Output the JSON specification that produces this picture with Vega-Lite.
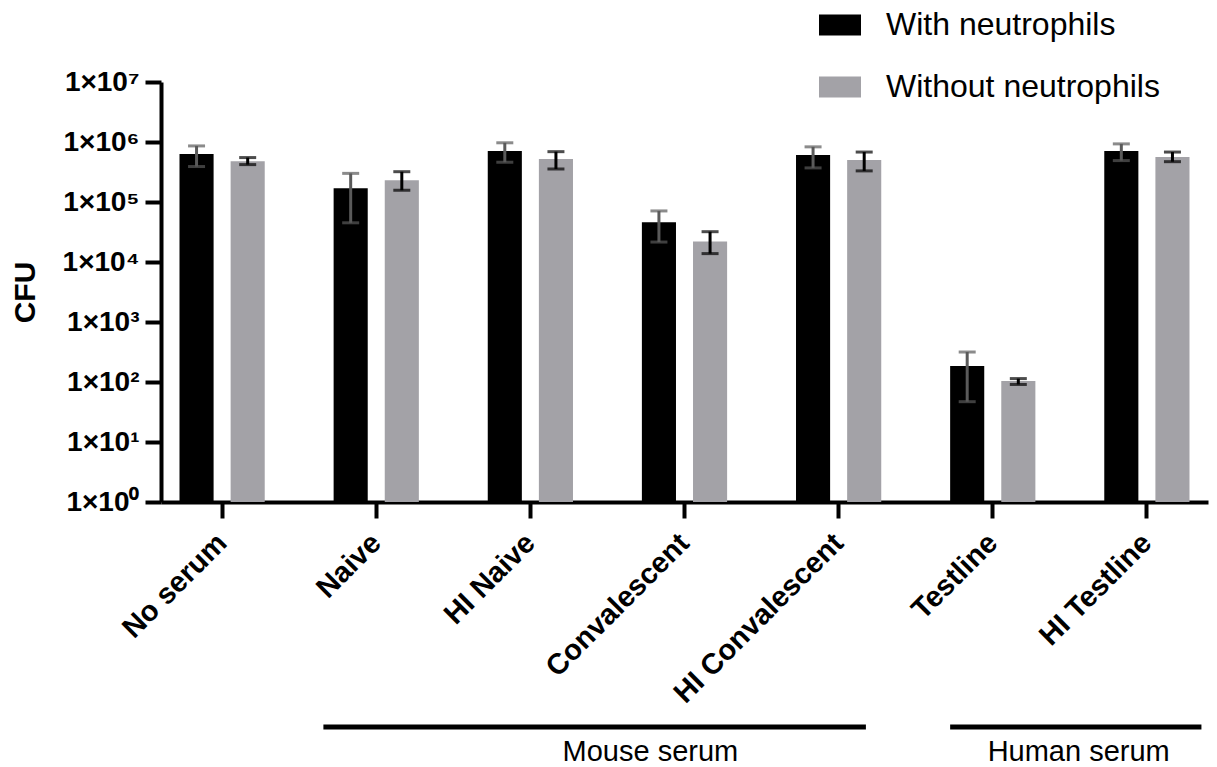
{
  "$schema": "https://vega.github.io/schema/vega-lite/v6.json",
  "padding": {"left": 10, "top": 4, "right": 5, "bottom": 0},
  "config": {"view": {"stroke": null}, "font": "Liberation Sans"},
  "datasets": {
    "bars": [
      {"category": "No serum", "series": "With neutrophils", "value": 630000, "lo": 390000, "hi": 860000},
      {"category": "No serum", "series": "Without neutrophils", "value": 480000, "lo": 420000, "hi": 550000},
      {"category": "Naive", "series": "With neutrophils", "value": 170000, "lo": 45000, "hi": 300000},
      {"category": "Naive", "series": "Without neutrophils", "value": 230000, "lo": 157000, "hi": 320000},
      {"category": "HI Naive", "series": "With neutrophils", "value": 710000, "lo": 460000, "hi": 970000},
      {"category": "HI Naive", "series": "Without neutrophils", "value": 520000, "lo": 355000, "hi": 690000},
      {"category": "Convalescent", "series": "With neutrophils", "value": 46000, "lo": 21500, "hi": 71000},
      {"category": "Convalescent", "series": "Without neutrophils", "value": 22000, "lo": 13800, "hi": 32000},
      {"category": "HI Convalescent", "series": "With neutrophils", "value": 610000, "lo": 370000, "hi": 830000},
      {"category": "HI Convalescent", "series": "Without neutrophils", "value": 500000, "lo": 330000, "hi": 680000},
      {"category": "Testline", "series": "With neutrophils", "value": 185, "lo": 47, "hi": 316},
      {"category": "Testline", "series": "Without neutrophils", "value": 104, "lo": 91, "hi": 114},
      {"category": "HI Testline", "series": "With neutrophils", "value": 710000, "lo": 490000, "hi": 930000},
      {"category": "HI Testline", "series": "Without neutrophils", "value": 560000, "lo": 470000, "hi": 680000}
    ],
    "groups": [
      {"group": "Mouse serum", "start": "Naive", "end": "HI Convalescent"},
      {"group": "Human serum", "start": "Testline", "end": "HI Testline"}
    ]
  },
  "resolve": {"scale": {"x": "shared"}},
  "spacing": 0,
  "vconcat": [
    {
      "width": 1047,
      "height": 420,
      "data": {"name": "bars"},
      "encoding": {
        "x": {
          "field": "category", "type": "nominal",
          "sort": ["No serum", "Naive", "HI Naive", "Convalescent", "HI Convalescent", "Testline", "HI Testline"],
          "scale": {"domain": ["No serum", "Naive", "HI Naive", "Convalescent", "HI Convalescent", "Testline", "HI Testline"], "paddingInner": 0.447, "paddingOuter": 0.12},
          "axis": {
            "title": null, "labelAngle": -45, "labelFontSize": 29, "labelFontWeight": "bold", "labelLimit": 0,
            "labelAlign": "right", "labelBaseline": "middle",
            "labelColor": "black", "labelPadding": 20, "domainWidth": 4, "domainColor": "black",
            "tickWidth": 4, "tickSize": 16, "tickColor": "black"
          }
        },
        "xOffset": {
          "field": "series", "type": "nominal",
          "sort": ["With neutrophils", "Without neutrophils"],
          "scale": {"paddingInner": 0.333, "paddingOuter": 0}
        },
        "y": {
          "field": "value", "type": "quantitative",
          "scale": {"type": "log", "domain": [1, 10000000], "nice": false},
          "axis": {
            "title": "CFU", "titleFontSize": 30, "titleFontWeight": "bold", "titleColor": "black", "titlePadding": 22,
            "values": [1, 10, 100, 1000, 10000, 100000, 1000000, 10000000],
            "labelExpr": "'1×10' + ['⁰','¹','²','³','⁴','⁵','⁶','⁷'][round(log(datum.value)/LN10)]",
            "labelFontSize": 28, "labelFontWeight": "bold", "labelColor": "black", "labelPadding": 6,
            "domainWidth": 4, "domainColor": "black", "tickWidth": 4, "tickSize": 16, "tickColor": "black",
            "grid": false
          }
        }
      },
      "layer": [
        {
          "mark": {"type": "bar"},
          "encoding": {
            "y2": {"datum": 1},
            "color": {
              "field": "series", "type": "nominal",
              "scale": {"domain": ["With neutrophils", "Without neutrophils"], "range": ["#000000", "#a3a2a7"]},
              "legend": {
                "orient": "none", "legendX": 658, "legendY": -78, "title": null,
                "symbolType": "M-1,-0.5H1V0.5H-1Z", "symbolSize": 1764, "symbolStrokeWidth": 0,
                "labelFontSize": 32, "labelFont": "Liberation Sans", "labelColor": "black", "labelLimit": 0,
                "rowPadding": 25, "labelOffset": 25
              }
            }
          }
        },
        {
          "mark": {"type": "rule", "strokeWidth": 3},
          "encoding": {
            "y": {"field": "lo", "type": "quantitative"},
            "y2": {"field": "hi"},
            "color": {"condition": {"test": "datum.series == 'With neutrophils'", "value": "#5a5a5a"}, "value": "#000000"}
          }
        },
        {
          "mark": {"type": "tick", "orient": "horizontal", "size": 17, "thickness": 3},
          "encoding": {
            "y": {"field": "lo", "type": "quantitative"},
            "color": {"condition": {"test": "datum.series == 'With neutrophils'", "value": "#5a5a5a"}, "value": "#000000"}
          }
        },
        {
          "mark": {"type": "tick", "orient": "horizontal", "size": 17, "thickness": 3},
          "encoding": {
            "y": {"field": "hi", "type": "quantitative"},
            "color": {"condition": {"test": "datum.series == 'With neutrophils'", "value": "#5a5a5a"}, "value": "#000000"}
          }
        }
      ]
    },
    {
      "width": 1047,
      "height": 36,
      "data": {"name": "groups"},
      "layer": [
        {
          "transform": [{"filter": "datum.group == 'Mouse serum'"}],
          "mark": {"type": "rule", "strokeWidth": 5, "color": "black"},
          "encoding": {
            "x": {"field": "start", "type": "nominal", "bandPosition": -0.12, "axis": null},
            "x2": {"field": "end", "bandPosition": 0.82}
          }
        },
        {
          "transform": [{"filter": "datum.group == 'Human serum'"}],
          "mark": {"type": "rule", "strokeWidth": 5, "color": "black"},
          "encoding": {
            "x": {"field": "start", "type": "nominal", "bandPosition": 0, "axis": null},
            "x2": {"field": "end", "bandPosition": 1.14}
          }
        },
        {
          "transform": [{"filter": "datum.group == 'Mouse serum'"}],
          "mark": {"type": "text", "fontSize": 29, "color": "black", "baseline": "middle", "dy": 25},
          "encoding": {
            "x": {"datum": "Convalescent", "type": "nominal", "bandPosition": 0.1, "axis": null},
            "text": {"field": "group"}
          }
        },
        {
          "transform": [{"filter": "datum.group == 'Human serum'"}],
          "mark": {"type": "text", "fontSize": 29, "color": "black", "baseline": "middle", "dy": 25},
          "encoding": {
            "x": {"field": "end", "type": "nominal", "bandPosition": -0.3, "axis": null},
            "text": {"field": "group"}
          }
        }
      ]
    }
  ]
}
